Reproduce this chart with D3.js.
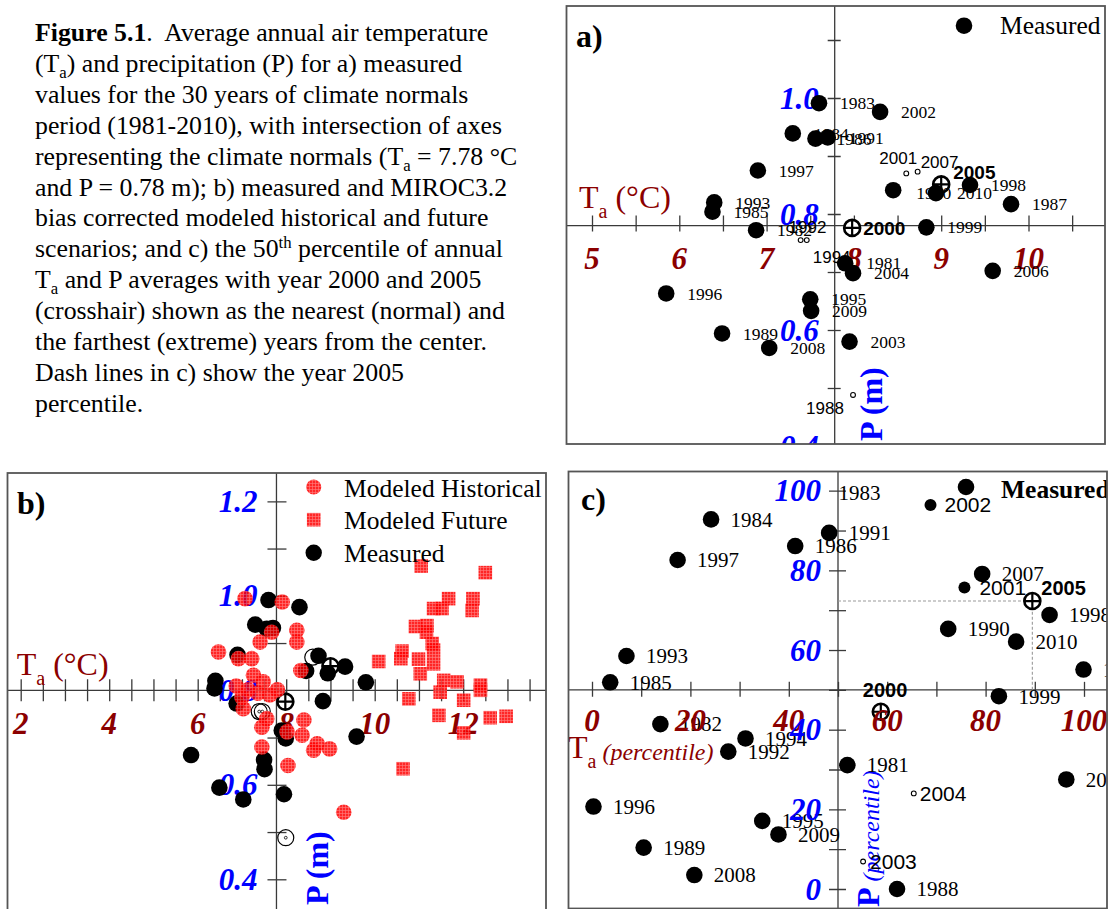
<!DOCTYPE html>
<html>
<head>
<meta charset="utf-8">
<script src="https://cdn.jsdelivr.net/npm/d3@7"></script>
<style>
  body { margin: 0; background: #fff; }
  svg { display: block; }
</style>
</head>
<body>
<svg id="fig" width="1117" height="909"></svg>
<script>
// ---------------------------------------------------------------------------
// Data: annual air temperature and precipitation, 1981-2010
// ---------------------------------------------------------------------------
const years = [1981, 1982, 1983, 1984, 1985, 1986, 1987, 1988, 1989, 1990,
               1991, 1992, 1993, 1994, 1995, 1996, 1997, 1998, 1999, 2000,
               2001, 2002, 2003, 2004, 2005, 2006, 2007, 2008, 2009, 2010];

// measured annual mean air temperature (°C)
const measuredTemp = [7.90, 6.88, 7.60, 7.30, 6.38, 7.56, 9.80, 7.99, 6.49, 8.45,
                      7.70, 7.39, 6.40, 7.46, 7.50, 5.85, 6.90, 9.33, 8.83, 7.98,
                      8.60, 8.30, 7.95, 7.99, 9.00, 9.59, 8.73, 7.03, 7.51, 8.94];

// measured annual precipitation (m)
const measuredPrecip = [0.715, 0.772, 0.991, 0.939, 0.804, 0.930, 0.817, 0.488, 0.594, 0.841,
                        0.932, 0.755, 0.820, 0.755, 0.653, 0.663, 0.875, 0.850, 0.777, 0.776,
                        0.870, 0.976, 0.580, 0.698, 0.851, 0.702, 0.873, 0.569, 0.633, 0.836];

// percentile of each year's temperature and precipitation
const tempPercentile = [51.9, 13.9, 44.8, 24.2, 3.7, 41.3, 99.9, 62.0, 10.5, 72.4,
                        48.2, 27.7, 7.0, 31.2, 34.6, 0.3, 17.4, 93.0, 82.7, 58.7,
                        75.7, 68.8, 55.1, 65.4, 89.5, 96.4, 79.3, 20.8, 37.9, 86.2];
const precipPercentile = [31.1, 41.4, 100.0, 92.8, 51.9, 86.1, 55.1, 0.0, 10.4, 65.3,
                          89.4, 34.5, 58.5, 37.8, 17.1, 20.7, 82.6, 68.8, 48.4, 44.5,
                          75.7, 96.4, 6.9, 24.0, 72.3, 27.5, 79.1, 3.5, 13.7, 62.1];

// MIROC3.2 bias-corrected modeled historical years
const histTemp = [7.07, 7.67, 7.41, 6.47, 6.92, 7.22, 7.26, 7.48, 7.91, 8.24,
                  8.24, 8.33, 7.03, 7.56, 7.45, 7.45, 8.40, 8.02, 8.36, 8.70,
                  8.62, 8.98, 8.04, 9.30, 6.87, 7.14, 7.36, 7.63, 7.80, 7.00];
const histPrecip = [0.994, 0.923, 0.902, 0.881, 0.867, 0.867, 0.832, 0.818, 0.987, 0.927,
                    0.902, 0.842, 0.761, 0.740, 0.722, 0.680, 0.737, 0.712, 0.705, 0.687,
                    0.673, 0.676, 0.641, 0.542, 0.809, 0.801, 0.794, 0.790, 0.801, 0.785];

// MIROC3.2 bias-corrected modeled future years
const futureTemp = [11.05, 12.50, 11.67, 12.22, 11.33, 11.52, 12.20, 10.92, 11.18, 11.17,
                    11.30, 11.33, 10.62, 10.09, 10.59, 10.99, 11.33, 11.03, 11.56, 11.86,
                    12.39, 10.77, 11.48, 12.01, 12.39, 11.45, 12.61, 12.97, 12.01, 10.64];
const futurePrecip = [1.063, 1.049, 0.994, 0.994, 0.973, 0.973, 0.969, 0.935, 0.937, 0.923,
                      0.899, 0.885, 0.883, 0.861, 0.867, 0.866, 0.856, 0.835, 0.821, 0.818,
                      0.811, 0.782, 0.796, 0.779, 0.800, 0.747, 0.742, 0.745, 0.710, 0.634];

// climate normals (axes intersection)
const normalTemp = 7.78;
const normalPrecip = 0.78;
const medianPercentile = 50;

// tick labels
const tempLabelsA = [5, 6, 7, 8, 9, 10];
const precipLabelsA = [0.4, 0.6, 0.8, 1.0];
const tempLabelsB = [2, 4, 6, 8, 10, 12];
const precipLabelsB = [0.4, 0.6, 0.8, 1.0, 1.2];
const pctLabels = [0, 20, 40, 60, 80, 100];

// caption of the figure: each line is a list of [text, style] runs
const captionLines = [
  [["Figure 5.1", "b"], [".  Average annual air temperature", ""]],
  [["(T", ""], ["a", "sub"], [") and precipitation (P) for a) measured", ""]],
  [["values for the 30 years of climate normals", ""]],
  [["period (1981-2010), with intersection of axes", ""]],
  [["representing the climate normals (T", ""], ["a", "sub"], [" = 7.78 °C", ""]],
  [["and P = 0.78 m); b) measured and MIROC3.2", ""]],
  [["bias corrected modeled historical and future", ""]],
  [["scenarios; and c) the 50", ""], ["th", "sup"], [" percentile of annual", ""]],
  [["T", ""], ["a", "sub"], [" and P averages with year 2000 and 2005", ""]],
  [["(crosshair) shown as the nearest (normal) and", ""]],
  [["the farthest (extreme) years from the center.", ""]],
  [["Dash lines in c) show the year 2005", ""]],
  [["percentile.", ""]]
];

// ---------------------------------------------------------------------------
// Styling
// ---------------------------------------------------------------------------
const SERIF = "'Liberation Serif', 'Times New Roman', serif";
const SANS = "'Liberation Sans', Arial, sans-serif";
const DARKRED = "#8b0000";
const BLUE = "#0000ff";
const AXIS = "#3a3a3a";
const FRAME = "#555";

const svg = d3.select("#fig");
svg.append("rect").attr("width", 1117).attr("height", 909).attr("fill", "#fff");
const defs = svg.append("defs");

// cross-hatched red fill used by the modeled series
const hatch = defs.append("pattern")
  .attr("id", "redHatch").attr("patternUnits", "userSpaceOnUse")
  .attr("width", 3).attr("height", 3);
hatch.append("rect").attr("width", 3).attr("height", 3).attr("fill", "#ff0000");
hatch.append("path").attr("d", "M0,0.5H3M0.5,0V3")
  .attr("stroke", "#ff6a6a").attr("stroke-width", 0.6);

const records = years.map((yr, i) => ({
  year: yr, t: measuredTemp[i], p: measuredPrecip[i],
  tp: tempPercentile[i], pp: precipPercentile[i]
}));

// ---------------------------------------------------------------------------
// Caption
// ---------------------------------------------------------------------------
(function drawCaption() {
  const left = 35, top = 41, lineGap = 30.9, size = 25.8;
  captionLines.forEach((runs, li) => {
    const t = svg.append("text")
      .attr("x", left).attr("y", top + li * lineGap)
      .style("white-space", "pre")
      .attr("font-family", SERIF).attr("font-size", size).attr("fill", "#000");
    let shift = 0;
    runs.forEach(([txt, st]) => {
      const ts = t.append("tspan").text(txt);
      if (st === "b") ts.attr("font-weight", "bold");
      if (st === "sub") { ts.attr("font-size", size * 0.65).attr("dy", 6 - shift); shift = 6; }
      else if (st === "sup") { ts.attr("font-size", size * 0.65).attr("dy", -9 - shift); shift = -9; }
      else if (shift !== 0) { ts.attr("dy", -shift); shift = 0; }
    });
  });
})();

// ---------------------------------------------------------------------------
// Panel helpers
// ---------------------------------------------------------------------------
function makePanel(id, box) {
  defs.append("clipPath").attr("id", "clip-" + id)
    .append("rect").attr("x", box.x).attr("y", box.y).attr("width", box.w).attr("height", box.h);
  const outer = svg.append("g");
  const inner = outer.append("g").attr("clip-path", `url(#clip-${id})`);
  return { outer, inner, box };
}

function frame(panel) {
  const b = panel.box;
  panel.outer.append("rect")
    .attr("x", b.x).attr("y", b.y).attr("width", b.w).attr("height", b.h)
    .attr("fill", "none").attr("stroke", FRAME).attr("stroke-width", 1.8);
}

function drawAxes(g, box, o) {
  const ax = o.x(o.crossX), ay = o.y(o.crossY);
  // horizontal axis with ticks crossing the line
  const gx = g.append("g").attr("transform", `translate(0,${ay})`)
    .call(d3.axisBottom(o.x).tickValues(o.xTicks).tickSize(o.xTick[1]).tickFormat(""));
  gx.select(".domain").remove();
  gx.selectAll(".tick line").attr("y1", -o.xTick[0]).attr("stroke", AXIS).attr("stroke-width", 1.3);
  g.append("line").attr("x1", box.x).attr("x2", box.x + box.w).attr("y1", ay).attr("y2", ay)
    .attr("stroke", AXIS).attr("stroke-width", 1.3);
  // vertical axis
  const gy = g.append("g").attr("transform", `translate(${ax},0)`)
    .call(d3.axisLeft(o.y).tickValues(o.yTicks).tickSize(o.yTick[0]).tickFormat(""));
  gy.select(".domain").remove();
  gy.selectAll(".tick line").attr("x1", o.yTick[1]).attr("stroke", AXIS).attr("stroke-width", 1.3);
  g.append("line").attr("x1", ax).attr("x2", ax).attr("y1", box.y).attr("y2", box.y + box.h)
    .attr("stroke", AXIS).attr("stroke-width", 1.3);
}

function drawTickLabels(g, o) {
  const ax = o.x(o.crossX), ay = o.y(o.crossY);
  g.append("g").selectAll("text").data(o.xLabels).join("text")
    .attr("x", d => o.x(d)).attr("y", ay + o.xLabelGap).attr("dy", "0.34em")
    .attr("text-anchor", "middle")
    .attr("font-family", SERIF).attr("font-weight", "bold").attr("font-style", "italic")
    .attr("font-size", 31).attr("fill", DARKRED)
    .text(o.xFormat);
  g.append("g").selectAll("text").data(o.yLabels).join("text")
    .attr("x", ax - o.yLabelGap).attr("y", d => o.y(d)).attr("dy", "0.34em")
    .attr("text-anchor", "end")
    .attr("font-family", SERIF).attr("font-weight", "bold").attr("font-style", "italic")
    .attr("font-size", 31).attr("fill", BLUE)
    .text(o.yFormat);
}

function tempTitle(g, x, y, unitText, unitItalic, unitSize) {
  const t = g.append("text").attr("x", x).attr("y", y)
    .style("white-space", "pre")
    .attr("font-family", SERIF).attr("font-size", 32).attr("fill", DARKRED);
  t.append("tspan").text("T");
  t.append("tspan").attr("font-size", 20).attr("dy", 10).text("a");
  const u = t.append("tspan").attr("dy", unitItalic ? -8 : -10).attr("font-size", unitSize).text(unitText);
  if (unitItalic) u.attr("font-style", "italic");
}

function panelTag(g, x, y, txt) {
  g.append("text").attr("x", x).attr("y", y)
    .attr("font-family", SERIF).attr("font-weight", "bold").attr("font-size", 32)
    .text(txt);
}

function crosshair(sel, r) {
  sel.append("circle").attr("r", r).attr("fill", "#fff").attr("stroke", "#000").attr("stroke-width", 2.6);
  sel.append("path").attr("d", `M${-r},0H${r}M0,${-r}V${r}`).attr("stroke", "#000").attr("stroke-width", 2.2);
}

// draws measured markers and their year labels for one panel
function measuredMarks(g, xs, ys, style) {
  const pts = g.append("g").selectAll("g").data(records).join("g")
    .attr("transform", d => `translate(${xs(d)},${ys(d)})`);
  pts.each(function (d) {
    const s = d3.select(this);
    const kind = style.kind(d.year);
    if (kind === "none") return;
    if (kind === "cross") crosshair(s, 8);
    else if (kind === "ring") s.append("circle").attr("r", 2.4).attr("fill", "#fff").attr("stroke", "#000").attr("stroke-width", 1.1);
    else if (kind === "hollow") {
      s.append("circle").attr("r", 8).attr("fill", "none").attr("stroke", "#000").attr("stroke-width", 1.2);
    }
    else if (kind === "hollowdot") {
      s.append("circle").attr("r", 8).attr("fill", "none").attr("stroke", "#000").attr("stroke-width", 1.2);
      s.append("circle").attr("r", 1.4).attr("fill", "none").attr("stroke", "#000").attr("stroke-width", 0.8);
    }
    else if (kind === "small") s.append("circle").attr("r", 6).attr("fill", "#000");
    else s.append("circle").attr("r", 8.3).attr("fill", "#000");
  });
  if (!style.labels) return;
  g.append("g").selectAll("text").data(records).join("text")
    .attr("x", d => xs(d) + (style.offsets[d.year] || style.defaultOffset)[0])
    .attr("y", d => ys(d) + (style.offsets[d.year] || style.defaultOffset)[1])
    .attr("dy", "0.35em")
    .attr("font-family", d => style.bold.includes(d.year) || style.sans.includes(d.year) ? SANS : SERIF)
    .attr("font-weight", d => style.bold.includes(d.year) ? "bold" : "normal")
    .attr("font-size", d => style.bold.includes(d.year) ? style.boldSize : (style.sans.includes(d.year) ? style.sansSize : style.size))
    .attr("fill", "#000")
    .text(d => d.year);
}

// ---------------------------------------------------------------------------
// Panel a: measured temperature vs precipitation
// ---------------------------------------------------------------------------
(function panelA() {
  const P = makePanel("a", { x: 566.5, y: 6, w: 538.5, h: 438 });
  const g = P.inner;
  const x = d3.scaleLinear().domain([5, 10]).range([592, 1028.5]);
  const y = d3.scaleLinear().domain([0.4, 1.0]).range([446, 98]);
  const o = {
    x, y, crossX: normalTemp, crossY: normalPrecip,
    xTicks: d3.range(5, 10.51, 0.5), yTicks: d3.range(0.4, 1.151, 0.1),
    xTick: [10, 6], yTick: [7, 6],
    xLabels: tempLabelsA, yLabels: precipLabelsA,
    xLabelGap: 33, yLabelGap: 16,
    xFormat: d3.format("d"), yFormat: d3.format(".1f")
  };
  drawAxes(g, P.box, o);
  drawTickLabels(g, o);
  tempTitle(g, 579, 208, " (°C)", false, 32);
  g.append("text").attr("transform", "translate(882,441) rotate(-90)")
    .attr("font-family", SERIF).attr("font-weight", "bold").attr("font-size", 32).attr("fill", BLUE)
    .text("P (m)");
  panelTag(g, 576, 47, "a)");

  const rings = [1988, 1992, 1994, 2001, 2007];
  measuredMarks(g, d => x(d.t), d => y(d.p), {
    kind: yr => (yr === 2000 || yr === 2005) ? "cross" : rings.includes(yr) ? "ring" : "dot",
    labels: true,
    defaultOffset: [21, 0],
    offsets: { 1992: [-12, -13], 1994: [6, 17], 2001: [-27, -15], 2007: [3, -10],
               2005: [12, -12.5], 2000: [11, 0], 1988: [-47, 13.5], 1990: [23, 3] },
    bold: [2000, 2005], sans: [1988, 1992, 1994, 2001, 2007],
    size: 17.5, sansSize: 17, boldSize: 19
  });

  // legend
  g.append("circle").attr("cx", 964).attr("cy", 25.7).attr("r", 8.3).attr("fill", "#000");
  g.append("text").attr("x", 1000).attr("y", 34).attr("font-family", SERIF).attr("font-size", 25.5).text("Measured");
  frame(P);
})();

// ---------------------------------------------------------------------------
// Panel b: measured plus modeled historical and future years
// ---------------------------------------------------------------------------
(function panelB() {
  const P = makePanel("b", { x: 7.5, y: 473, w: 538.5, h: 445 });
  const g = P.inner;
  const x = d3.scaleLinear().domain([2, 12]).range([20.7, 463.2]);
  const y = d3.scaleLinear().domain([0.4, 1.2]).range([879.3, 501.3]);
  const o = {
    x, y, crossX: normalTemp, crossY: 0.8,
    xTicks: d3.range(2, 13.51, 0.5), yTicks: d3.range(0.4, 1.21, 0.1),
    xTick: [11, 11], yTick: [9, 10],
    xLabels: tempLabelsB, yLabels: precipLabelsB,
    xLabelGap: 33, yLabelGap: 19,
    xFormat: d3.format("d"), yFormat: d3.format(".1f")
  };
  drawAxes(g, P.box, o);
  drawTickLabels(g, o);
  tempTitle(g, 16.7, 675, " (°C)", false, 32);
  g.append("text").attr("transform", "translate(328,905) rotate(-90)")
    .attr("font-family", SERIF).attr("font-weight", "bold").attr("font-size", 32).attr("fill", BLUE)
    .text("P (m)");
  panelTag(g, 17, 514, "b)");

  // measured years underneath the semi-transparent modeled marks
  measuredMarks(g, d => x(d.t), d => y(d.p), {
    kind: yr => (yr === 2000 || yr === 2005) ? "cross"
      : [1988, 1992, 1994].includes(yr) ? "hollowdot"
      : yr === 2001 ? "hollow" : "dot",
    labels: false
  });

  g.append("g").selectAll("circle").data(histTemp).join("circle")
    .attr("cx", d => x(d)).attr("cy", (d, i) => y(histPrecip[i])).attr("r", 7.8)
    .attr("fill", "url(#redHatch)").attr("fill-opacity", 0.85);
  g.append("g").selectAll("rect").data(futureTemp).join("rect")
    .attr("x", d => x(d) - 6.8).attr("y", (d, i) => y(futurePrecip[i]) - 6.8)
    .attr("width", 13.6).attr("height", 13.6)
    .attr("fill", "url(#redHatch)").attr("fill-opacity", 0.85);

  // legend
  const lx = 313.7, tx = 344;
  g.append("circle").attr("cx", lx).attr("cy", 487).attr("r", 7.6).attr("fill", "url(#redHatch)").attr("fill-opacity", 0.85);
  g.append("rect").attr("x", lx - 6.8).attr("y", 519.7 - 6.8).attr("width", 13.6).attr("height", 13.6)
    .attr("fill", "url(#redHatch)").attr("fill-opacity", 0.85);
  g.append("circle").attr("cx", lx).attr("cy", 552.7).attr("r", 8.2).attr("fill", "#000");
  [["Modeled Historical", 497], ["Modeled Future", 529], ["Measured", 561.5]].forEach(([t, ty]) =>
    g.append("text").attr("x", tx).attr("y", ty).attr("font-family", SERIF).attr("font-size", 25.5).text(t));
  frame(P);
})();

// ---------------------------------------------------------------------------
// Panel c: percentiles of temperature and precipitation
// ---------------------------------------------------------------------------
(function panelC() {
  const P = makePanel("c", { x: 568.5, y: 471.5, w: 538.5, h: 437 });
  const g = P.inner;
  const x = d3.scaleLinear().domain([0, 100]).range([592, 1084]);
  const y = d3.scaleLinear().domain([0, 100]).range([889, 490.7]);
  const o = {
    x, y, crossX: medianPercentile, crossY: medianPercentile,
    xTicks: d3.range(0, 100.1, 10), yTicks: d3.range(0, 100.1, 10),
    xTick: [8, 7], yTick: [9, 8],
    xLabels: pctLabels, yLabels: pctLabels,
    xLabelGap: 31, yLabelGap: 17,
    xFormat: d3.format("d"), yFormat: d3.format("d")
  };
  drawAxes(g, P.box, o);

  // dashed guides to the 2005 percentile
  const y2005 = records.find(r => r.year === 2005);
  g.append("path")
    .attr("d", `M${x(medianPercentile)},${y(y2005.pp)}H${x(y2005.tp)}V${y(medianPercentile)}`)
    .attr("fill", "none").attr("stroke", "#999").attr("stroke-width", 1.1).attr("stroke-dasharray", "3,2");

  tempTitle(g, 568, 758, " (percentile)", true, 24);
  const pt = g.append("text").attr("transform", "translate(879,907) rotate(-90)")
    .style("white-space", "pre")
    .attr("font-family", SERIF).attr("fill", BLUE);
  pt.append("tspan").attr("font-weight", "bold").attr("font-size", 32).text("P");
  pt.append("tspan").attr("font-style", "italic").attr("font-size", 24).text(" (percentile)");
  panelTag(g, 581, 510, "c)");

  measuredMarks(g, d => x(d.tp), d => y(d.pp), {
    kind: yr => (yr === 2000 || yr === 2005) ? "cross"
      : yr === 1983 ? "none"
      : [2003, 2004].includes(yr) ? "ring"
      : [2001, 2002].includes(yr) ? "small" : "dot",
    labels: true,
    defaultOffset: [19.5, 0],
    offsets: { 2002: [14, 0], 2001: [15, 0], 2005: [9, -13], 2000: [-18, -22],
               2004: [6, 0], 2003: [7, 0], 1983: [26, 2] },
    bold: [2000, 2005], sans: [2001, 2002, 2003, 2004],
    size: 21, sansSize: 21, boldSize: 20
  });

  drawTickLabels(g, o);

  // legend
  g.append("circle").attr("cx", 966).attr("cy", 487).attr("r", 8.3).attr("fill", "#000");
  g.append("text").attr("x", 1001).attr("y", 498).attr("font-family", SERIF)
    .attr("font-weight", "bold").attr("font-size", 25.5).text("Measured");
  frame(P);
})();
</script>
</body>
</html>
